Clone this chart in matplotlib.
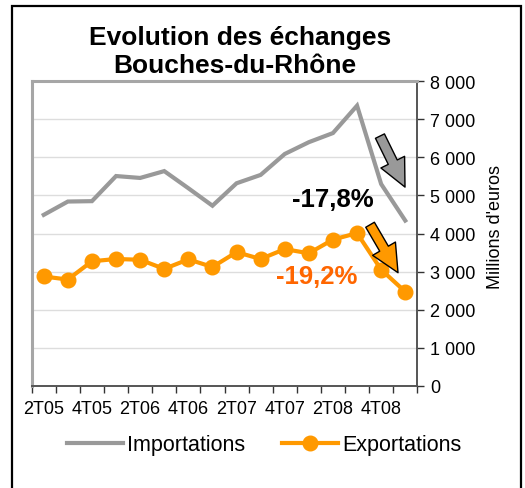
import matplotlib
matplotlib.use("Agg")
import matplotlib.pyplot as plt
from matplotlib.patches import FancyArrowPatch, Rectangle
from matplotlib.lines import Line2D

plt.rcParams['font.family'] = ['Liberation Sans', 'DejaVu Sans']

categories = ["2T05", "3T05", "4T05", "1T06", "2T06", "3T06", "4T06", "1T07",
              "2T07", "3T07", "4T07", "1T08", "2T08", "3T08", "4T08", "1T09"]
importations = [4490, 4840, 4850, 5510, 5460, 5640, 5190, 4730,
                5320, 5540, 6090, 6400, 6640, 7360, 5300, 4340]
exportations = [2870, 2790, 3270, 3330, 3310, 3070, 3320, 3120,
                3510, 3330, 3590, 3480, 3840, 4010, 3050, 2470]
yticks = [0, 1000, 2000, 3000, 4000, 5000, 6000, 7000, 8000]
ytick_labels = ["0", "1 000", "2 000", "3 000", "4 000", "5 000", "6 000", "7 000", "8 000"]
title_lines = ["Evolution des échanges", "Bouches-du-Rhône"]
pct_imp = "-17,8%"
pct_exp = "-19,2%"

W, H = 525, 489
fig = plt.figure(figsize=(W / 100, H / 100), dpi=100)
fig.patch.set_facecolor("white")

# outer frame
fig.patches.append(Rectangle((12 / W, -0.02), (521 - 12) / W, 1.02 - 7 / H,
                             transform=fig.transFigure, fill=False,
                             edgecolor="black", linewidth=1.6))

ax = fig.add_axes([31.7 / W, 1 - 386.7 / H, (417.3 - 31.7) / W, (386.7 - 82.3) / H])
x = list(range(len(categories)))

GRAY = "#999999"
ORANGE = "#FF9900"

ax.plot(x, importations, color=GRAY, linewidth=3, solid_joinstyle="miter", zorder=3)
ax.plot(x, exportations, color=ORANGE, linewidth=3, marker="o", markersize=10.5,
        zorder=4)

ax.set_xlim(-0.5, len(categories) - 0.5)
ax.set_ylim(0, 8000)

ax.yaxis.tick_right()
ax.set_yticks(yticks)
ax.set_yticklabels(ytick_labels, fontsize=13)
ax.tick_params(axis="y", direction="out", length=5, width=1, color="#333333", pad=4)
ax.grid(axis="y", color="#dddddd", linewidth=1)
ax.set_axisbelow(True)

ax.set_xticks([i - 0.5 for i in range(len(categories) + 1)], minor=False)
ax.set_xticklabels([])
ax.tick_params(axis="x", which="major", direction="out", length=5, width=1, color="#333333")
ax.set_xticks(x[::2], minor=True)
ax.set_xticklabels(categories[::2], minor=True, fontsize=13)
ax.tick_params(axis="x", which="minor", length=0, pad=10)

for s in ["left", "top"]:
    ax.spines[s].set_color("#a6a6a6")
    ax.spines[s].set_linewidth(2.2)
for s in ["right", "bottom"]:
    ax.spines[s].set_color("#555555")
    ax.spines[s].set_linewidth(1.4)

# arrows
def block_arrow(p0, p1, color):
    arr = FancyArrowPatch(p0, p1, arrowstyle="simple,head_width=19,head_length=20,tail_width=7.2",
                          mutation_scale=1, facecolor=color, edgecolor="black",
                          linewidth=1, shrinkA=0, shrinkB=0, zorder=6)
    ax.add_patch(arr)

block_arrow((13.95, 6560), (14.99, 5220), "#999999")
block_arrow((13.54, 4230), (14.70, 2970), ORANGE)

ax.text(11.98, 4910, pct_imp, fontsize=18.5, fontweight="bold", color="black",
        ha="center", va="center", zorder=7)
ax.text(11.32, 2890, pct_exp, fontsize=18.5, fontweight="bold", color="#FF6600",
        ha="center", va="center", zorder=7)

# title
fig.text(240.5 / W, 1 - 45 / H, title_lines[0], fontsize=19, fontweight="bold",
         ha="center", va="baseline")
fig.text(235 / W, 1 - 73 / H, title_lines[1], fontsize=19, fontweight="bold",
         ha="center", va="baseline")

fig.text(495 / W, 1 - 227 / H, "Millions d'euros", fontsize=13, rotation=90,
         ha="center", va="center")

handles = [Line2D([], [], color=GRAY, linewidth=3),
           Line2D([], [], color=ORANGE, linewidth=3, marker="o", markersize=10.5)]
fig.legend(handles, ["Importations", "Exportations"], loc="center",
           bbox_to_anchor=(264 / W, 1 - 446 / H), ncol=2, frameon=False,
           fontsize=15.5, handlelength=2.6, handletextpad=0.2, columnspacing=1.7,
           borderpad=0)

fig.savefig("out.png", dpi=100)
